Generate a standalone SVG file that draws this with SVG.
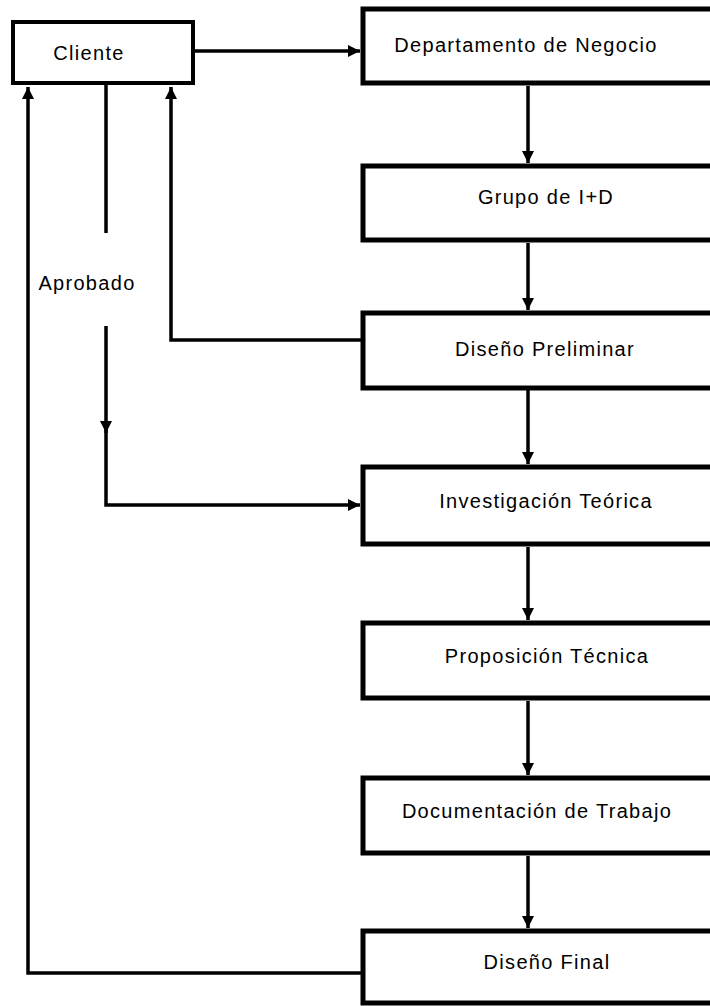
<svg xmlns="http://www.w3.org/2000/svg" width="710" height="1006" viewBox="0 0 710 1006">
<style>
.box{fill:#fff;stroke:#000;stroke-width:5}
.lbl{font-family:"Liberation Sans",Arial,sans-serif;font-size:20px;letter-spacing:1.3px;fill:#000;text-anchor:middle}
.ln{fill:none;stroke:#000;stroke-width:3.5}
.arr{marker-end:url(#ah)}
</style>
<defs>
<marker id="ah" markerUnits="userSpaceOnUse" markerWidth="14" markerHeight="14" refX="12" refY="7" orient="auto">
<path d="M0,1 L12,7 L0,13 Z" fill="#000"/>
</marker>
</defs>
<rect width="710" height="1006" fill="#fff"/>
<g id="connectors">
<path class="ln arr" d="M193 51 H360"/>
<path class="ln arr" d="M528 86 V163"/>
<path class="ln arr" d="M528 243 V310"/>
<path class="ln arr" d="M528 390 V464"/>
<path class="ln arr" d="M528 547 V620"/>
<path class="ln arr" d="M528 701 V775"/>
<path class="ln arr" d="M528 856 V928"/>
<path class="ln arr" d="M362 340 H171 V87"/>
<path class="ln arr" d="M362 973 H28 V87"/>
<path class="ln" d="M106 85 V233"/>
<path class="ln arr" d="M106 326 V433"/>
<path class="ln arr" d="M106 430 V505 H360"/>
<text class="lbl" x="87" y="290">Aprobado</text>
</g>
<g id="cliente"><rect class="box" x="13" y="22" width="180" height="61" style="stroke-width:4"/><text class="lbl" x="89" y="60">Cliente</text></g>
<g id="departamento"><rect class="box" x="363" y="9" width="360" height="74"/><text class="lbl" x="526" y="52">Departamento de Negocio</text></g>
<g id="grupo"><rect class="box" x="363" y="166" width="360" height="74"/><text class="lbl" x="546" y="204">Grupo de I+D</text></g>
<g id="preliminar"><rect class="box" x="363" y="313" width="360" height="75"/><text class="lbl" x="545" y="356">Diseño Preliminar</text></g>
<g id="investigacion"><rect class="box" x="363" y="467" width="360" height="77"/><text class="lbl" x="546" y="508">Investigación Teórica</text></g>
<g id="proposicion"><rect class="box" x="363" y="623" width="360" height="75"/><text class="lbl" x="547" y="663">Proposición Técnica</text></g>
<g id="documentacion"><rect class="box" x="363" y="778" width="360" height="75"/><text class="lbl" x="537" y="818">Documentación de Trabajo</text></g>
<g id="final"><rect class="box" x="363" y="931" width="360" height="72"/><text class="lbl" x="547" y="969">Diseño Final</text></g>
</svg>
